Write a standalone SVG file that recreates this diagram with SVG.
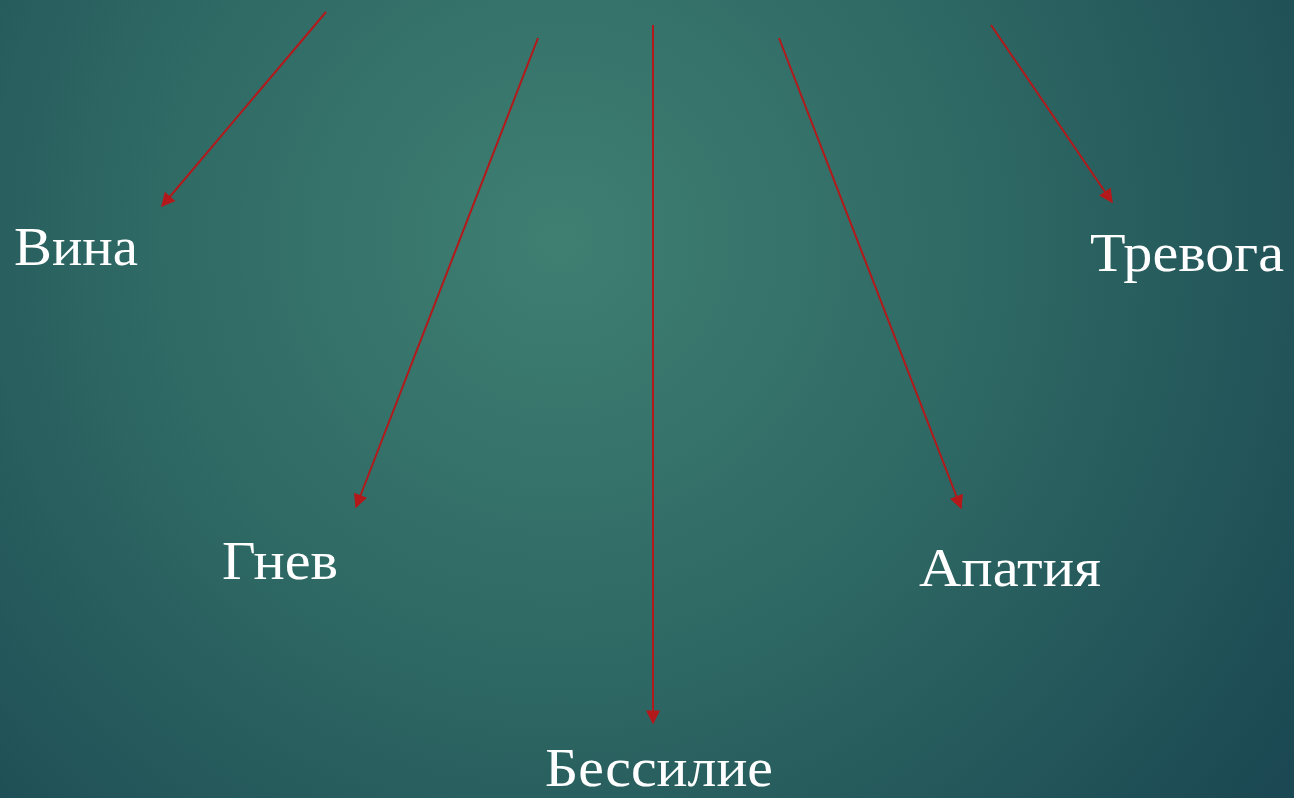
<svg xmlns="http://www.w3.org/2000/svg" width="1294" height="798" viewBox="0 0 1294 798">
<defs>
<radialGradient id="bg" cx="560" cy="240" r="900" gradientUnits="userSpaceOnUse">
<stop offset="0" stop-color="#3f7f72"/>
<stop offset="0.45" stop-color="#2f6a65"/>
<stop offset="1" stop-color="#1b4852"/>
</radialGradient>
<marker id="ah" viewBox="0 0 10 10" refX="9" refY="5" markerWidth="8" markerHeight="7" markerUnits="strokeWidth" orient="auto">
<path d="M0,0 L10,5 L0,10 Z" fill="#b3191b"/>
</marker>
<style>
.lbl{font-family:"Liberation Serif","DejaVu Serif",serif;font-size:54px;fill:#ffffff}
.arr{stroke:#b3191b;stroke-width:2;fill:none;marker-end:url(#ah)}
</style>
</defs>
<rect width="1294" height="798" fill="url(#bg)"/>
<g id="connectors">
<line class="arr" x1="326" y1="12" x2="162" y2="206"/>
<line class="arr" x1="538" y1="38" x2="356" y2="507"/>
<line class="arr" x1="653" y1="25" x2="653" y2="723"/>
<line class="arr" x1="779" y1="38" x2="961" y2="508"/>
<line class="arr" x1="991" y1="25" x2="1112" y2="202"/>
</g>
<g id="vina"><text class="lbl" x="14" y="265" textLength="124" lengthAdjust="spacingAndGlyphs">Вина</text></g>
<g id="gnev"><text class="lbl" x="222" y="579" textLength="116" lengthAdjust="spacingAndGlyphs">Гнев</text></g>
<g id="bessilie"><text class="lbl" x="545" y="786" textLength="228" lengthAdjust="spacingAndGlyphs">Бессилие</text></g>
<g id="apatiya"><text class="lbl" x="919" y="586" textLength="182" lengthAdjust="spacingAndGlyphs">Апатия</text></g>
<g id="trevoga"><text class="lbl" x="1090" y="271" textLength="194" lengthAdjust="spacingAndGlyphs">Тревога</text></g>
</svg>
